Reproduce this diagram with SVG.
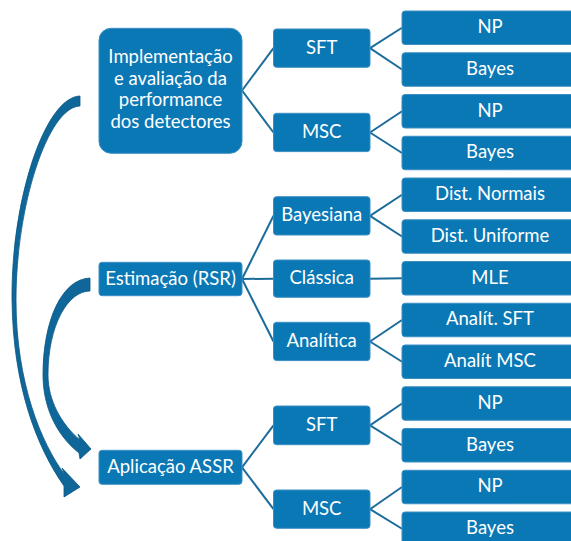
<svg xmlns="http://www.w3.org/2000/svg" width="571" height="541" viewBox="0 0 571 541">
<style>
  .box { fill: #0A78B5; stroke: #3C8FC3; stroke-width: 1; }
  .t { fill: #ffffff; font-family: Lato, "Liberation Sans", sans-serif; font-size: 18.5px; text-anchor: middle; }
  .con line { stroke: #1B6C9B; stroke-width: 2; fill: none; }
  .arr { fill: #0F6799; stroke: #0A5784; stroke-width: 0.8; stroke-linejoin: round; }
</style>
<rect width="571" height="541" fill="#ffffff"/>

<g id="connectors" class="con">
  <line x1="242" y1="90.5" x2="273.5" y2="48.2"/>
  <line x1="242" y1="90.5" x2="273.5" y2="132.5"/>
  <line x1="242" y1="279" x2="273.5" y2="215.8"/>
  <line x1="242" y1="279" x2="273.5" y2="278.7"/>
  <line x1="242" y1="279" x2="273.5" y2="341.5"/>
  <line x1="242" y1="467.3" x2="273.5" y2="425.3"/>
  <line x1="242" y1="467.3" x2="273.5" y2="509.2"/>
  <line x1="370" y1="48.2" x2="402" y2="27.75"/>
  <line x1="370" y1="48.2" x2="402" y2="69.5"/>
  <line x1="370" y1="132.5" x2="402" y2="111.25"/>
  <line x1="370" y1="132.5" x2="402" y2="153"/>
  <line x1="370" y1="215.8" x2="402" y2="194.75"/>
  <line x1="370" y1="215.8" x2="402" y2="236.5"/>
  <line x1="370" y1="278.7" x2="402" y2="278.25"/>
  <line x1="370" y1="341.5" x2="402" y2="320"/>
  <line x1="370" y1="341.5" x2="402" y2="361.75"/>
  <line x1="370" y1="425.3" x2="402" y2="403.5"/>
  <line x1="370" y1="425.3" x2="402" y2="445.25"/>
  <line x1="370" y1="509.2" x2="402" y2="487"/>
  <line x1="370" y1="509.2" x2="402" y2="528.75"/>
  <path class="arr" d="M80,96 C45,97 11,200 12,300 C13,385 36,446 64,486 L64,497 L80,487 L62,468 L65,475 C41,443 16,382 16,300 C16,205 48,107 80,106 Z"/>
  <path class="arr" d="M90,278 C62,279 43,320 43,375 C43,405 55,434 79,453 L80,459 L91,449 L78,434 L80,440 C61,424 48,400 48,375 C48,325 68,291 90,291 Z"/>
</g>

<g id="impl"><rect class="box" x="99" y="28.3" width="143" height="125" rx="12"/>
  <text class="t" x="170.5" y="63">Implementação</text>
  <text class="t" x="170.5" y="84.5">e avaliação da</text>
  <text class="t" x="170.5" y="106">performance</text>
  <text class="t" x="170.5" y="127.5">dos detectores</text></g>
<g id="estim"><rect class="box" x="99" y="262.3" width="143" height="33.4" rx="3"/><text class="t" x="170.5" y="284.8">Estimação (RSR)</text></g>
<g id="aplic"><rect class="box" x="99" y="450.3" width="143" height="34" rx="3"/><text class="t" x="170.5" y="472.8">Aplicação ASSR</text></g>

<g id="sft1"><rect class="box" x="273.5" y="29" width="96.5" height="38.3" rx="3"/><text class="t" x="321.7" y="53.6">SFT</text></g>
<g id="msc1"><rect class="box" x="273.5" y="113.3" width="96.5" height="38.3" rx="3"/><text class="t" x="321.7" y="137.9">MSC</text></g>
<g id="bayesiana"><rect class="box" x="273.5" y="196.7" width="96.5" height="38.3" rx="3"/><text class="t" x="321.7" y="221.3">Bayesiana</text></g>
<g id="classica"><rect class="box" x="273.5" y="260" width="96.5" height="37.3" rx="3"/><text class="t" x="321.7" y="284.3">Clássica</text></g>
<g id="analitica"><rect class="box" x="273.5" y="322.3" width="96.5" height="38.3" rx="3"/><text class="t" x="321.7" y="346.9">Analítica</text></g>
<g id="sft2"><rect class="box" x="273.5" y="406" width="96.5" height="38.7" rx="3"/><text class="t" x="321.7" y="430.7">SFT</text></g>
<g id="msc2"><rect class="box" x="273.5" y="490" width="96.5" height="38.3" rx="3"/><text class="t" x="321.7" y="514.6">MSC</text></g>

<g id="np1"><rect class="box" x="402" y="11" width="180" height="33.5" rx="3"/><text class="t" x="490" y="33">NP</text></g>
<g id="bayes1"><rect class="box" x="402" y="52.75" width="180" height="33.5" rx="3"/><text class="t" x="490" y="74.7">Bayes</text></g>
<g id="np2"><rect class="box" x="402" y="94.5" width="180" height="33.5" rx="3"/><text class="t" x="490" y="116.5">NP</text></g>
<g id="bayes2"><rect class="box" x="402" y="136.25" width="180" height="33.5" rx="3"/><text class="t" x="490" y="158.2">Bayes</text></g>
<g id="distn"><rect class="box" x="402" y="178" width="180" height="33.5" rx="3"/><text class="t" x="490" y="200">Dist. Normais</text></g>
<g id="distu"><rect class="box" x="402" y="219.75" width="180" height="33.5" rx="3"/><text class="t" x="490" y="241.7">Dist. Uniforme</text></g>
<g id="mle"><rect class="box" x="402" y="261.5" width="180" height="33.5" rx="3"/><text class="t" x="490" y="283.5">MLE</text></g>
<g id="ansft"><rect class="box" x="402" y="303.25" width="180" height="33.5" rx="3"/><text class="t" x="490" y="325.2">Analít. SFT</text></g>
<g id="anmsc"><rect class="box" x="402" y="345" width="180" height="33.5" rx="3"/><text class="t" x="490" y="367">Analít MSC</text></g>
<g id="np3"><rect class="box" x="402" y="386.75" width="180" height="33.5" rx="3"/><text class="t" x="490" y="408.7">NP</text></g>
<g id="bayes3"><rect class="box" x="402" y="428.5" width="180" height="33.5" rx="3"/><text class="t" x="490" y="450.5">Bayes</text></g>
<g id="np4"><rect class="box" x="402" y="470.25" width="180" height="33.5" rx="3"/><text class="t" x="490" y="492.2">NP</text></g>
<g id="bayes4"><rect class="box" x="402" y="512" width="180" height="33.5" rx="3"/><text class="t" x="490" y="534">Bayes</text></g>
</svg>
